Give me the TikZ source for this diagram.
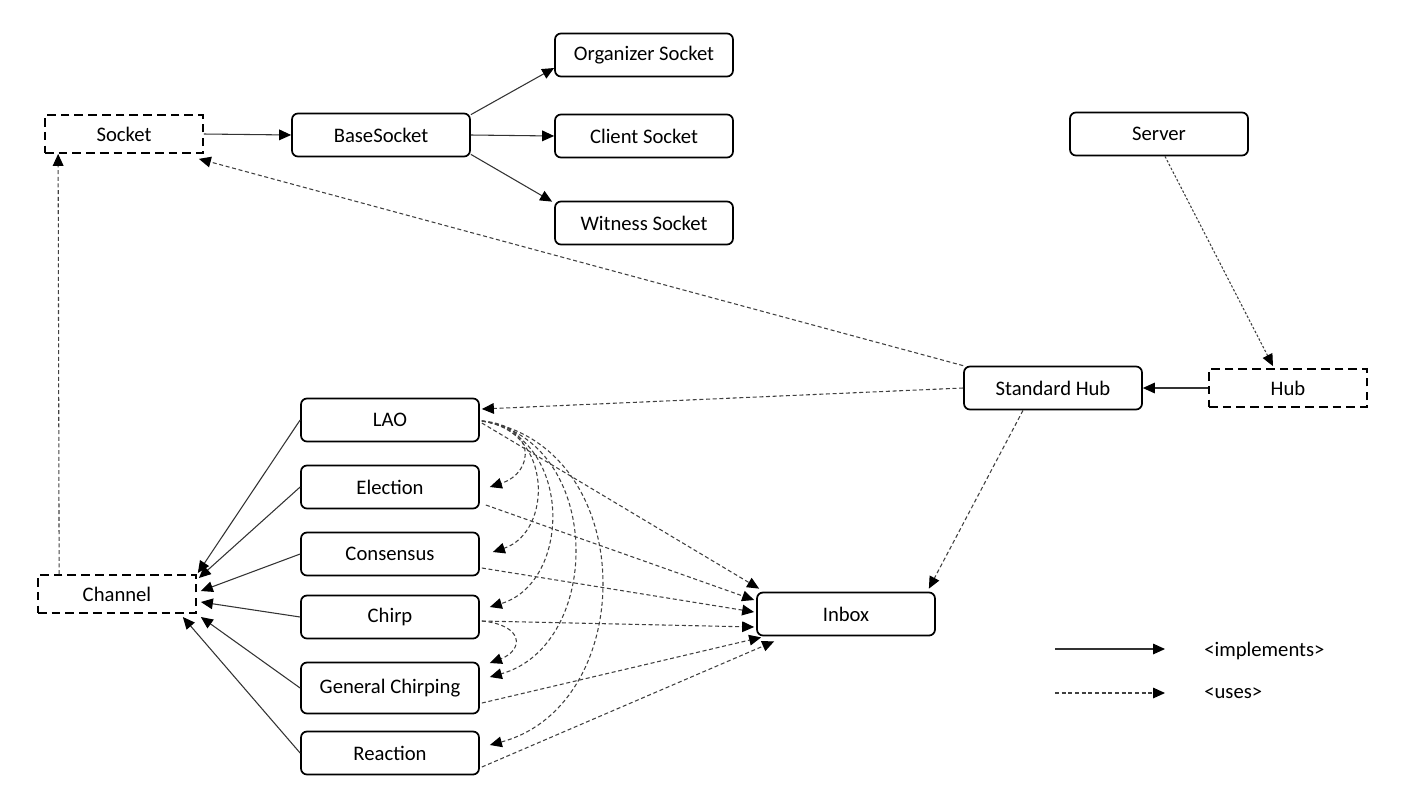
\documentclass[tikz,border=0pt]{standalone}
\usepackage{fontspec}
\setmainfont{Carlito}
\usetikzlibrary{arrows.meta,calc}

\tikzset{
  cls/.style={draw, line width=1.3pt, rounded corners=4.5pt, inner sep=0pt,
    minimum width=133.5pt, minimum height=32.25pt,
    font=\fontsize{15.5}{18}\selectfont},
  iface/.style={draw, line width=1.3pt, dash pattern=on 6.5pt off 3.8pt, inner sep=0pt,
    minimum width=118.5pt, minimum height=28.5pt,
    font=\fontsize{15.5}{18}\selectfont},
  lbl/.style={anchor=west, inner sep=0pt, font=\fontsize{15.5}{18}\selectfont},
  tip/.style={-{Triangle[length=9pt,width=8pt,black]}},
  impl/.style={draw=black!80, line width=0.8pt, tip},
  uses/.style={draw=black!75, line width=0.8pt, dash pattern=on 3pt off 2pt, tip},
  usesfine/.style={uses, dash pattern=on 1.8pt off 1.4pt},
}

\begin{document}
\begin{tikzpicture}[x=0.75pt,y=-0.75pt]
\useasboundingbox (0,0) rectangle (1412,808);

% interfaces
\node[iface] (socket)  at (124,134)  {Socket};
\node[iface] (channel) at (117,594)  {Channel};
\node[iface] (hub)     at (1288,388) {Hub};

% socket classes
\node[cls] (base)      at (381,135) {BaseSocket};
\node[cls] (organizer) at (644,55)  {Organizer Socket};
\node[cls] (client)    at (644,136) {Client Socket};
\node[cls] (witness)   at (644,223) {Witness Socket};

% hub side
\node[cls] (server) at (1159,134) {Server};
\node[cls] (std)    at (1053,388) {Standard Hub};
\node[cls] (inbox)  at (846,614)  {Inbox};

% channels
\node[cls] (lao)       at (390,420) {LAO};
\node[cls] (election)  at (390,487) {Election};
\node[cls] (consensus) at (390,554) {Consensus};
\node[cls] (chirp)     at (390,617) {Chirp};
\node[cls, minimum height=38.25pt] (gchirp) at (390,688) {General Chirping};
\node[cls] (reaction)  at (390,753) {Reaction};

% implements
\draw[impl] (socket.east) -- (base.west);
\draw[impl] ($(base.north east)+(0,2)$) -- ($(organizer.west)+(0,13)$);
\draw[impl] (base.east) -- (client.west);
\draw[impl] ($(base.south east)+(0,-3)$) -- ($(witness.north west)+(-2,1)$);
\draw[impl] (hub.west) -- (std.east);
\draw[impl] (lao.west)       -- ($(channel.east)+(1,-21)$);
\draw[impl] (election.west)  -- ($(channel.east)+(2,-16)$);
\draw[impl] (consensus.west) -- ($(channel.east)+(4,-3)$);
\draw[impl] (chirp.west)     -- ($(channel.east)+(4,8)$);
\draw[impl] (gchirp.west)    -- ($(channel.east)+(4,23)$);
\draw[impl] (reaction.west)  -- ($(channel.east)+(-14,23)$);

% uses
\draw[uses] ($(channel.north west)+(22,0)$) -- ($(socket.south west)+(14,0)$);
\draw[uses] (std.north west) -- ($(socket.south east)+(-5,5)$);
\draw[uses] (std.west) -- ($(lao.east)+(2,-11)$);
\draw[uses] ($(std.south)+(-30,0)$) -- ($(inbox.north east)+(-7,-3)$);
\draw[usesfine] ($(server.south)+(6,0)$) -- ($(hub.north)+(-15,-2)$);

\draw[uses] ($(lao.east)+(2,3)$)       -- ($(inbox.north west)+(3,-3)$);
\draw[uses] ($(election.east)+(6,18)$) -- ($(inbox.west)+(-2,-14)$);
\draw[uses] ($(consensus.east)+(2,14)$) -- ($(inbox.west)+(-2,-2)$);
\draw[uses] ($(chirp.east)+(2,4)$)     -- ($(inbox.west)+(-2,13)$);
\draw[uses] ($(gchirp.east)+(2,15)$)   -- ($(inbox.south west)+(5,1)$);
\draw[uses] ($(reaction.east)+(2,14)$) -- ($(inbox.south west)+(18,5)$);

% LAO uses the other channels
\draw[uses] ($(lao.east)+(2,1)$) .. controls (536,425) and (536,472) .. ($(election.east)+(10,0)$);
\draw[uses] ($(lao.east)+(2,1)$) .. controls (553,430) and (553,532) .. ($(consensus.east)+(13,-2)$);
\draw[uses] ($(lao.east)+(2,1)$) .. controls (573,435) and (573,582) .. ($(chirp.east)+(10,-10)$);
\draw[uses] ($(lao.east)+(2,1)$) .. controls (604,440) and (604,645) .. ($(gchirp.east)+(10,-11)$);
\draw[uses] ($(lao.east)+(2,1)$) .. controls (640,445) and (640,705) .. ($(reaction.east)+(10,-8)$);
\draw[uses] ($(chirp.east)+(2,4)$) .. controls (524,625) and (524,650) .. ($(gchirp.east)+(10,-25)$);

% legend
\coordinate (la) at (1055,649);
\coordinate (lb) at (1165,649);
\coordinate (lc) at (1055,693);
\coordinate (ld) at (1165,693);
\draw[impl] (la) -- (lb);
\draw[uses] (lc) -- (ld);
\node[lbl] (limpl) at (1204,651) {<implements>};
\node[lbl] (luses) at (1204,693) {<uses>};
\end{tikzpicture}
\end{document}
